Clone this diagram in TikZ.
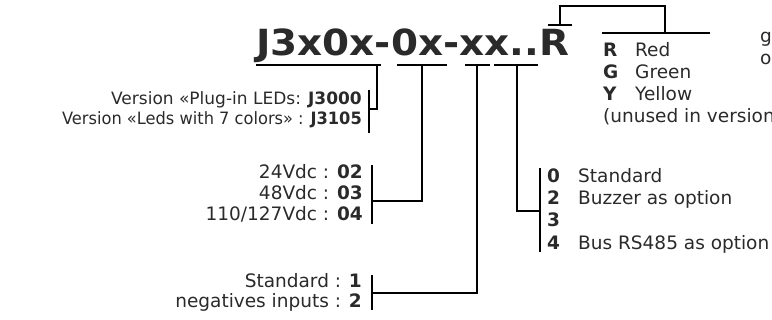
\documentclass[tikz,border=0pt]{standalone}
\usepackage{fontspec}
\setmainfont{DejaVu Sans}
\definecolor{txt}{HTML}{2A2A2A}
\begin{document}
\begin{tikzpicture}[x=1pt,y=-1pt,
  lbl/.style={inner sep=0pt, text=txt, font=\fontsize{18.5}{22}\selectfont},
  key/.style={lbl, font=\fontsize{18.5}{22}\selectfont\bfseries},
  verlbl/.style={inner sep=0pt, text=txt, font=\fontsize{17}{20}\selectfont},
  ln/.style={line width=1.1pt, draw=black}]
\useasboundingbox (0,0) rectangle (772,320);
\clip (0,0) rectangle (772,320);
% title
\node[anchor=base west, inner sep=0pt, text=txt, font=\fontsize{36}{40}\selectfont\bfseries] (title) at (256,56) {\scalebox{1.08}[1]{J3x0x-0x-xx..R}};
% underline coordinates
\coordinate (u1a) at (256,65); \coordinate (u1b) at (381,65); \coordinate (t1) at (377,65);
\coordinate (u2a) at (397,65); \coordinate (u2b) at (447,65); \coordinate (t2) at (422,65);
\coordinate (u3a) at (465,65); \coordinate (u3b) at (490,65); \coordinate (t3) at (477,65);
\coordinate (u4a) at (494,65); \coordinate (u4b) at (538,65); \coordinate (t4) at (517,65);
\coordinate (u5a) at (548,25); \coordinate (u5b) at (572,25); \coordinate (t5) at (560,25);
\draw[ln] (u1a) -- (u1b);
\draw[ln] (u2a) -- (u2b);
\draw[ln] (u3a) -- (u3b);
\draw[ln] (u4a) -- (u4b);
\draw[ln] (u5a) -- (u5b);
% colour group
\coordinate (c1) at (560,6); \coordinate (c2) at (665,6); \coordinate (c3) at (665,33);
\coordinate (cla) at (602,33); \coordinate (clb) at (710,33);
\draw[ln] (t5) -- (c1) -- (c2) -- (c3);
\draw[ln] (cla) -- (clb);
\node[key, anchor=base west] (kR) at (603,57) {R};
\node[key, anchor=base west] (kG) at (603,79) {G};
\node[key, anchor=base west] (kY) at (603,101) {Y};
\node[lbl, anchor=base west] (vR) at (635,57) {Red};
\node[lbl, anchor=base west] (vG) at (635,79) {Green};
\node[lbl, anchor=base west] (vY) at (635,101) {Yellow};
\node[lbl, anchor=base west] (unused) at (603,123) {(unused in version};
\node[lbl, anchor=base west] (rg) at (760,43) {g};
\node[lbl, anchor=base west] (ro) at (760,65) {o};
% version group
\node[verlbl, anchor=base east] (ver1) at (362,105) {Version «Plug-in LEDs: \textbf{J3000}};
\node[verlbl, anchor=base east] (ver2) at (362,125) {\scalebox{0.955}[1]{Version «Leds with 7 colors» : \textbf{J3105}}};
\coordinate (b1a) at (369,90); \coordinate (b1b) at (369,133); \coordinate (b1m) at (369,109);
\coordinate (k1) at (377,109);
\draw[ln] (b1a) -- (b1b);
\draw[ln] (t1) -- (k1) -- (b1m);
% voltage group
\node[lbl, anchor=base east] (v24) at (363,179) {24Vdc : \textbf{02}};
\node[lbl, anchor=base east] (v48) at (363,200) {48Vdc : \textbf{03}};
\node[lbl, anchor=base east] (v110) at (363,221) {110/127Vdc : \textbf{04}};
\coordinate (b2a) at (372,165); \coordinate (b2b) at (372,224); \coordinate (b2m) at (372,201);
\coordinate (k2) at (422,201);
\draw[ln] (b2a) -- (b2b);
\draw[ln] (t2) -- (k2) -- (b2m);
% input group
\node[lbl, anchor=base east] (std) at (362,288) {Standard : \textbf{1}};
\node[lbl, anchor=base east] (neg) at (362,308) {negatives inputs : \textbf{2}};
\coordinate (b3a) at (372,275); \coordinate (b3b) at (372,310); \coordinate (b3m) at (372,293);
\coordinate (k3) at (477,293);
\draw[ln] (b3a) -- (b3b);
\draw[ln] (t3) -- (k3) -- (b3m);
% options group
\coordinate (b4a) at (540,168); \coordinate (b4b) at (540,252); \coordinate (b4m) at (540,211);
\coordinate (k4) at (517,211);
\draw[ln] (b4a) -- (b4b);
\draw[ln] (t4) -- (k4) -- (b4m);
\node[key, anchor=base west] (o0) at (547,183) {0};
\node[key, anchor=base west] (o2) at (547,205) {2};
\node[key, anchor=base west] (o3) at (547,227) {3};
\node[key, anchor=base west] (o4) at (547,250) {4};
\node[lbl, anchor=base west] (d0) at (578,183) {Standard};
\node[lbl, anchor=base west] (d2) at (578,205) {Buzzer as option};
\node[lbl, anchor=base west] (d4) at (578,250) {Bus RS485 as option};
\end{tikzpicture}
\end{document}
